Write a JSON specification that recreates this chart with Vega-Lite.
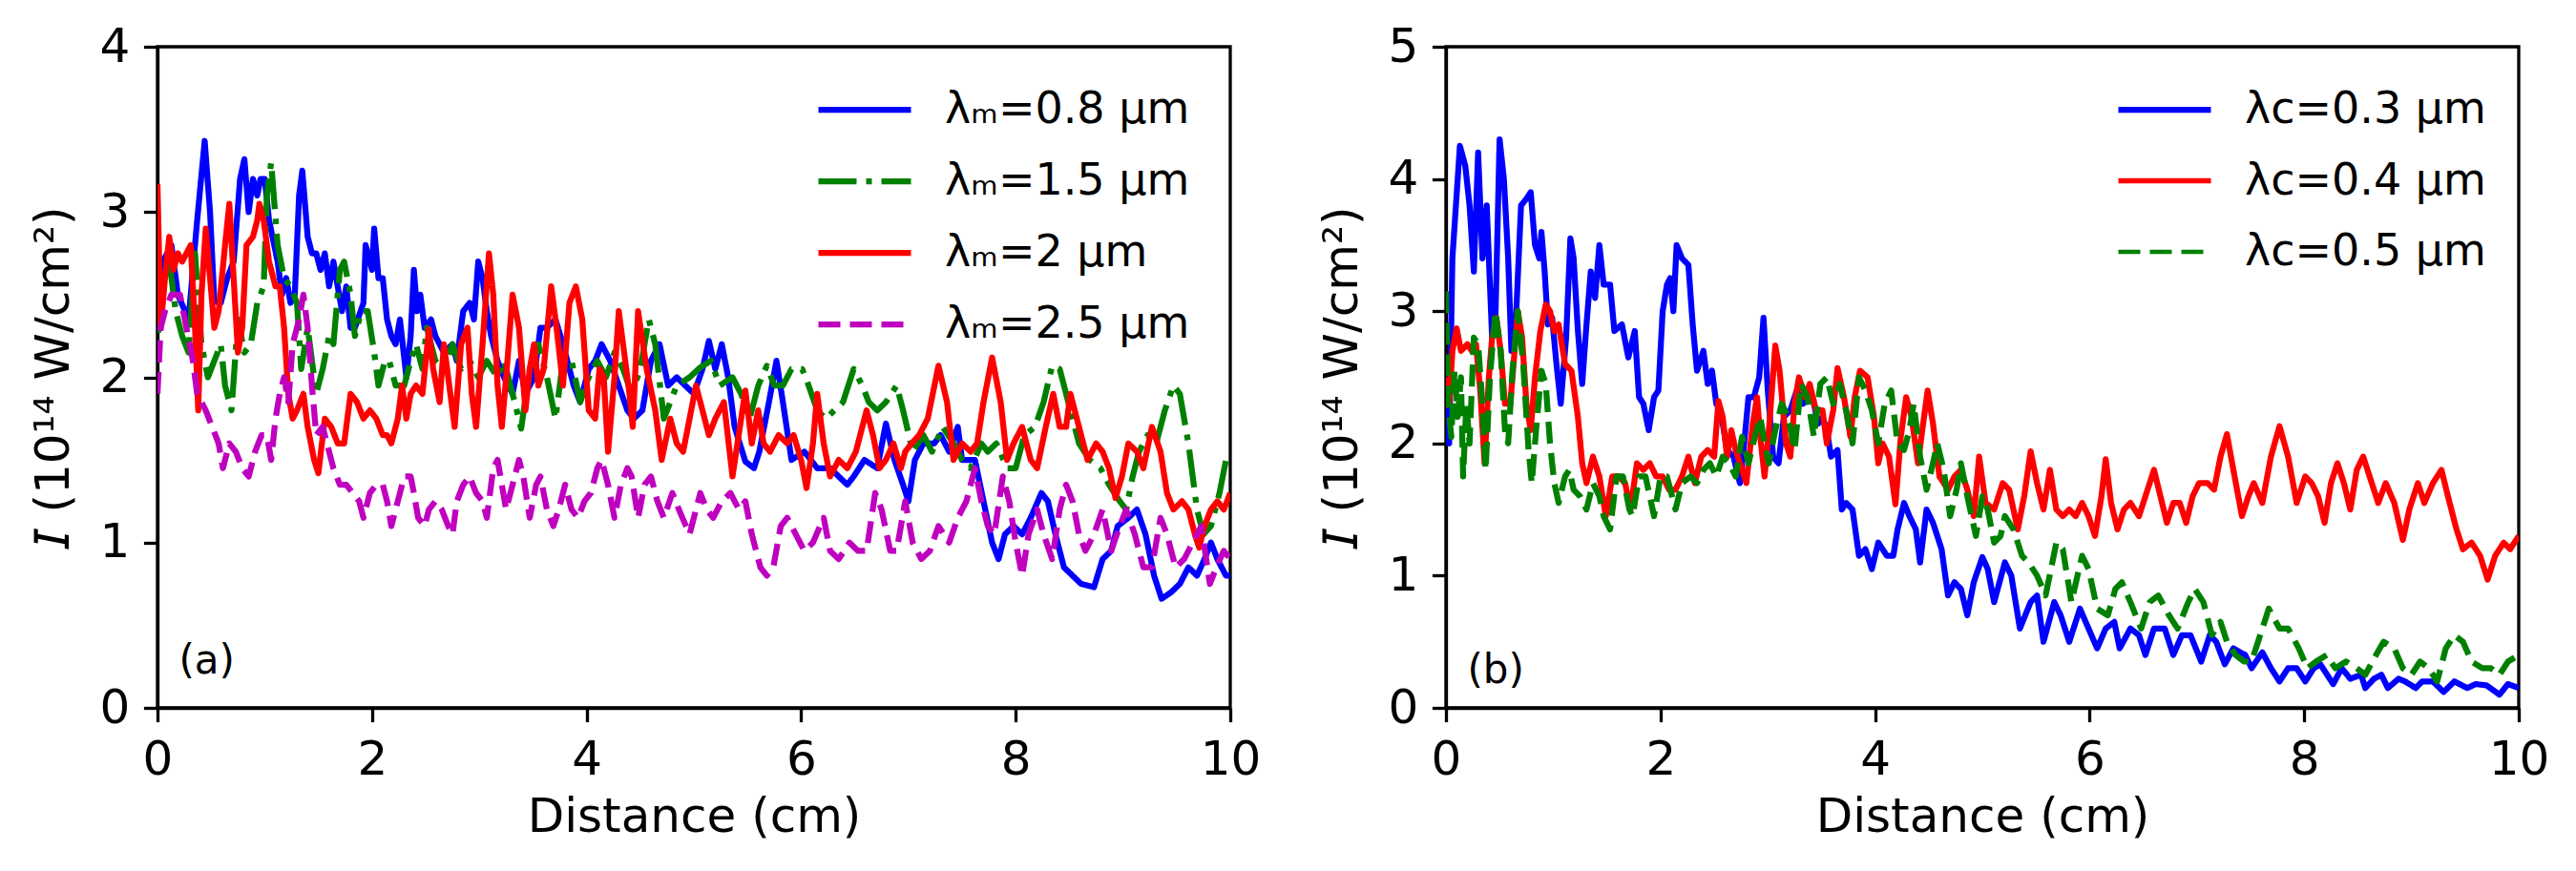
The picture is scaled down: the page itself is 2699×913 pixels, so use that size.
{
  "$schema": "https://vega.github.io/schema/vega-lite/v6.json",
  "background": "white",
  "padding": {"left": 30, "top": 22, "right": 0, "bottom": 0},
  "spacing": 57,
  "datasets": {
    "a": [
      {"s":"0.8","x":0,"y":2.5},{"s":"0.8","x":0.05,"y":2.7},{"s":"0.8","x":0.13,"y":2.8},{"s":"0.8","x":0.19,"y":2.5},{"s":"0.8","x":0.29,"y":2.35},{"s":"0.8","x":0.37,"y":2.95},{"s":"0.8","x":0.44,"y":3.43},{"s":"0.8","x":0.49,"y":3.0},{"s":"0.8","x":0.53,"y":2.46},{"s":"0.8","x":0.59,"y":2.45},{"s":"0.8","x":0.65,"y":2.6},{"s":"0.8","x":0.71,"y":2.7},{"s":"0.8","x":0.77,"y":3.2},{"s":"0.8","x":0.81,"y":3.32},{"s":"0.8","x":0.85,"y":3.0},{"s":"0.8","x":0.89,"y":3.2},{"s":"0.8","x":0.93,"y":3.1},{"s":"0.8","x":0.96,"y":3.2},{"s":"0.8","x":1.0,"y":3.2},{"s":"0.8","x":1.04,"y":2.95},{"s":"0.8","x":1.12,"y":2.7},{"s":"0.8","x":1.16,"y":2.5},{"s":"0.8","x":1.2,"y":2.6},{"s":"0.8","x":1.24,"y":2.45},{"s":"0.8","x":1.28,"y":2.5},{"s":"0.8","x":1.32,"y":3.1},{"s":"0.8","x":1.35,"y":3.25},{"s":"0.8","x":1.4,"y":2.85},{"s":"0.8","x":1.44,"y":2.75},{"s":"0.8","x":1.48,"y":2.75},{"s":"0.8","x":1.52,"y":2.65},{"s":"0.8","x":1.56,"y":2.75},{"s":"0.8","x":1.6,"y":2.55},{"s":"0.8","x":1.64,"y":2.7},{"s":"0.8","x":1.68,"y":2.55},{"s":"0.8","x":1.72,"y":2.4},{"s":"0.8","x":1.76,"y":2.55},{"s":"0.8","x":1.8,"y":2.3},{"s":"0.8","x":1.84,"y":2.3},{"s":"0.8","x":1.92,"y":2.45},{"s":"0.8","x":1.94,"y":2.8},{"s":"0.8","x":2.0,"y":2.65},{"s":"0.8","x":2.02,"y":2.9},{"s":"0.8","x":2.06,"y":2.6},{"s":"0.8","x":2.1,"y":2.6},{"s":"0.8","x":2.14,"y":2.35},{"s":"0.8","x":2.18,"y":2.25},{"s":"0.8","x":2.22,"y":2.2},{"s":"0.8","x":2.26,"y":2.35},{"s":"0.8","x":2.32,"y":2.0},{"s":"0.8","x":2.36,"y":2.25},{"s":"0.8","x":2.39,"y":2.65},{"s":"0.8","x":2.42,"y":2.4},{"s":"0.8","x":2.45,"y":2.5},{"s":"0.8","x":2.49,"y":2.3},{"s":"0.8","x":2.55,"y":2.35},{"s":"0.8","x":2.59,"y":2.25},{"s":"0.8","x":2.67,"y":2.15},{"s":"0.8","x":2.75,"y":2.2},{"s":"0.8","x":2.79,"y":2.1},{"s":"0.8","x":2.85,"y":2.4},{"s":"0.8","x":2.91,"y":2.45},{"s":"0.8","x":2.95,"y":2.35},{"s":"0.8","x":2.99,"y":2.7},{"s":"0.8","x":3.03,"y":2.6},{"s":"0.8","x":3.07,"y":2.4},{"s":"0.8","x":3.11,"y":2.25},{"s":"0.8","x":3.17,"y":2.1},{"s":"0.8","x":3.23,"y":2.0},{"s":"0.8","x":3.31,"y":1.9},{"s":"0.8","x":3.37,"y":2.1},{"s":"0.8","x":3.43,"y":1.9},{"s":"0.8","x":3.51,"y":2.0},{"s":"0.8","x":3.57,"y":2.3},{"s":"0.8","x":3.63,"y":2.3},{"s":"0.8","x":3.71,"y":2.35},{"s":"0.8","x":3.78,"y":2.2},{"s":"0.8","x":3.82,"y":2.1},{"s":"0.8","x":3.88,"y":1.95},{"s":"0.8","x":3.94,"y":1.85},{"s":"0.8","x":4.02,"y":2.05},{"s":"0.8","x":4.08,"y":2.1},{"s":"0.8","x":4.14,"y":2.2},{"s":"0.8","x":4.22,"y":2.1},{"s":"0.8","x":4.3,"y":1.95},{"s":"0.8","x":4.38,"y":1.8},{"s":"0.8","x":4.44,"y":1.75},{"s":"0.8","x":4.52,"y":1.8},{"s":"0.8","x":4.6,"y":2.1},{"s":"0.8","x":4.68,"y":2.2},{"s":"0.8","x":4.76,"y":1.95},{"s":"0.8","x":4.84,"y":2.0},{"s":"0.8","x":4.92,"y":1.95},{"s":"0.8","x":5.0,"y":1.9},{"s":"0.8","x":5.08,"y":2.05},{"s":"0.8","x":5.14,"y":2.22},{"s":"0.8","x":5.2,"y":2.05},{"s":"0.8","x":5.26,"y":2.2},{"s":"0.8","x":5.32,"y":2.0},{"s":"0.8","x":5.38,"y":1.7},{"s":"0.8","x":5.48,"y":1.49},{"s":"0.8","x":5.56,"y":1.45},{"s":"0.8","x":5.61,"y":1.55},{"s":"0.8","x":5.7,"y":1.85},{"s":"0.8","x":5.77,"y":2.1},{"s":"0.8","x":5.83,"y":1.85},{"s":"0.8","x":5.91,"y":1.5},{"s":"0.8","x":6.03,"y":1.55},{"s":"0.8","x":6.15,"y":1.45},{"s":"0.8","x":6.27,"y":1.45},{"s":"0.8","x":6.35,"y":1.4},{"s":"0.8","x":6.43,"y":1.35},{"s":"0.8","x":6.49,"y":1.4},{"s":"0.8","x":6.59,"y":1.5},{"s":"0.8","x":6.71,"y":1.45},{"s":"0.8","x":6.79,"y":1.72},{"s":"0.8","x":6.87,"y":1.5},{"s":"0.8","x":6.95,"y":1.35},{"s":"0.8","x":7.0,"y":1.25},{"s":"0.8","x":7.06,"y":1.5},{"s":"0.8","x":7.14,"y":1.6},{"s":"0.8","x":7.24,"y":1.6},{"s":"0.8","x":7.3,"y":1.65},{"s":"0.8","x":7.38,"y":1.55},{"s":"0.8","x":7.46,"y":1.7},{"s":"0.8","x":7.5,"y":1.5},{"s":"0.8","x":7.62,"y":1.5},{"s":"0.8","x":7.7,"y":1.25},{"s":"0.8","x":7.78,"y":1.0},{"s":"0.8","x":7.84,"y":0.9},{"s":"0.8","x":7.9,"y":1.05},{"s":"0.8","x":7.98,"y":1.1},{"s":"0.8","x":8.06,"y":1.05},{"s":"0.8","x":8.14,"y":1.15},{"s":"0.8","x":8.24,"y":1.3},{"s":"0.8","x":8.3,"y":1.25},{"s":"0.8","x":8.37,"y":1.05},{"s":"0.8","x":8.45,"y":0.85},{"s":"0.8","x":8.53,"y":0.8},{"s":"0.8","x":8.61,"y":0.75},{"s":"0.8","x":8.73,"y":0.73},{"s":"0.8","x":8.81,"y":0.9},{"s":"0.8","x":8.89,"y":0.95},{"s":"0.8","x":8.95,"y":1.1},{"s":"0.8","x":9.05,"y":1.15},{"s":"0.8","x":9.13,"y":1.2},{"s":"0.8","x":9.21,"y":1.05},{"s":"0.8","x":9.29,"y":0.8},{"s":"0.8","x":9.36,"y":0.66},{"s":"0.8","x":9.45,"y":0.7},{"s":"0.8","x":9.53,"y":0.75},{"s":"0.8","x":9.61,"y":0.85},{"s":"0.8","x":9.69,"y":0.8},{"s":"0.8","x":9.76,"y":0.9},{"s":"0.8","x":9.82,"y":1.0},{"s":"0.8","x":9.88,"y":0.9},{"s":"0.8","x":9.96,"y":0.8},{"s":"0.8","x":10,"y":0.8},
      {"s":"1.5","x":0,"y":2.5},{"s":"1.5","x":0.01,"y":2.2},{"s":"1.5","x":0.05,"y":2.6},{"s":"1.5","x":0.11,"y":2.7},{"s":"1.5","x":0.17,"y":2.4},{"s":"1.5","x":0.23,"y":2.25},{"s":"1.5","x":0.29,"y":2.15},{"s":"1.5","x":0.35,"y":2.75},{"s":"1.5","x":0.41,"y":2.2},{"s":"1.5","x":0.47,"y":2.0},{"s":"1.5","x":0.53,"y":2.1},{"s":"1.5","x":0.59,"y":2.2},{"s":"1.5","x":0.63,"y":1.95},{"s":"1.5","x":0.69,"y":1.8},{"s":"1.5","x":0.75,"y":2.35},{"s":"1.5","x":0.81,"y":2.15},{"s":"1.5","x":0.87,"y":2.2},{"s":"1.5","x":0.93,"y":2.45},{"s":"1.5","x":0.99,"y":2.55},{"s":"1.5","x":1.02,"y":3.1},{"s":"1.5","x":1.06,"y":3.3},{"s":"1.5","x":1.12,"y":2.8},{"s":"1.5","x":1.18,"y":2.6},{"s":"1.5","x":1.24,"y":2.55},{"s":"1.5","x":1.3,"y":2.45},{"s":"1.5","x":1.34,"y":2.05},{"s":"1.5","x":1.4,"y":2.3},{"s":"1.5","x":1.48,"y":1.9},{"s":"1.5","x":1.54,"y":2.05},{"s":"1.5","x":1.6,"y":2.25},{"s":"1.5","x":1.64,"y":2.2},{"s":"1.5","x":1.7,"y":2.65},{"s":"1.5","x":1.74,"y":2.7},{"s":"1.5","x":1.8,"y":2.5},{"s":"1.5","x":1.84,"y":2.25},{"s":"1.5","x":1.9,"y":2.4},{"s":"1.5","x":1.96,"y":2.4},{"s":"1.5","x":2.02,"y":2.15},{"s":"1.5","x":2.06,"y":1.95},{"s":"1.5","x":2.12,"y":2.1},{"s":"1.5","x":2.16,"y":2.1},{"s":"1.5","x":2.22,"y":1.95},{"s":"1.5","x":2.3,"y":1.95},{"s":"1.5","x":2.36,"y":2.1},{"s":"1.5","x":2.41,"y":2.2},{"s":"1.5","x":2.47,"y":2.05},{"s":"1.5","x":2.51,"y":2.3},{"s":"1.5","x":2.59,"y":2.1},{"s":"1.5","x":2.67,"y":2.05},{"s":"1.5","x":2.75,"y":2.2},{"s":"1.5","x":2.83,"y":2.05},{"s":"1.5","x":2.91,"y":2.1},{"s":"1.5","x":2.99,"y":2.0},{"s":"1.5","x":3.07,"y":2.1},{"s":"1.5","x":3.17,"y":2.0},{"s":"1.5","x":3.23,"y":2.1},{"s":"1.5","x":3.33,"y":1.85},{"s":"1.5","x":3.39,"y":1.69},{"s":"1.5","x":3.47,"y":2.05},{"s":"1.5","x":3.55,"y":2.2},{"s":"1.5","x":3.63,"y":2.0},{"s":"1.5","x":3.71,"y":1.75},{"s":"1.5","x":3.78,"y":2.1},{"s":"1.5","x":3.86,"y":2.1},{"s":"1.5","x":3.94,"y":1.85},{"s":"1.5","x":4.02,"y":2.0},{"s":"1.5","x":4.1,"y":2.1},{"s":"1.5","x":4.18,"y":2.0},{"s":"1.5","x":4.26,"y":2.15},{"s":"1.5","x":4.34,"y":2.05},{"s":"1.5","x":4.42,"y":1.9},{"s":"1.5","x":4.5,"y":2.05},{"s":"1.5","x":4.58,"y":2.35},{"s":"1.5","x":4.64,"y":2.2},{"s":"1.5","x":4.72,"y":1.75},{"s":"1.5","x":4.84,"y":1.95},{"s":"1.5","x":4.96,"y":2.0},{"s":"1.5","x":5.06,"y":2.06},{"s":"1.5","x":5.16,"y":2.1},{"s":"1.5","x":5.24,"y":1.95},{"s":"1.5","x":5.36,"y":2.0},{"s":"1.5","x":5.44,"y":1.9},{"s":"1.5","x":5.52,"y":1.75},{"s":"1.5","x":5.6,"y":1.95},{"s":"1.5","x":5.68,"y":2.07},{"s":"1.5","x":5.75,"y":1.95},{"s":"1.5","x":5.83,"y":1.95},{"s":"1.5","x":5.91,"y":2.05},{"s":"1.5","x":6.01,"y":2.05},{"s":"1.5","x":6.07,"y":1.95},{"s":"1.5","x":6.15,"y":1.8},{"s":"1.5","x":6.23,"y":1.75},{"s":"1.5","x":6.31,"y":1.8},{"s":"1.5","x":6.39,"y":1.85},{"s":"1.5","x":6.49,"y":2.05},{"s":"1.5","x":6.57,"y":1.95},{"s":"1.5","x":6.63,"y":1.85},{"s":"1.5","x":6.71,"y":1.8},{"s":"1.5","x":6.79,"y":1.85},{"s":"1.5","x":6.89,"y":1.95},{"s":"1.5","x":6.95,"y":1.8},{"s":"1.5","x":7.04,"y":1.55},{"s":"1.5","x":7.14,"y":1.65},{"s":"1.5","x":7.22,"y":1.55},{"s":"1.5","x":7.32,"y":1.7},{"s":"1.5","x":7.42,"y":1.6},{"s":"1.5","x":7.5,"y":1.5},{"s":"1.5","x":7.58,"y":1.45},{"s":"1.5","x":7.68,"y":1.6},{"s":"1.5","x":7.74,"y":1.55},{"s":"1.5","x":7.82,"y":1.6},{"s":"1.5","x":7.92,"y":1.45},{"s":"1.5","x":8.0,"y":1.45},{"s":"1.5","x":8.08,"y":1.65},{"s":"1.5","x":8.18,"y":1.7},{"s":"1.5","x":8.26,"y":1.85},{"s":"1.5","x":8.34,"y":2.07},{"s":"1.5","x":8.41,"y":2.05},{"s":"1.5","x":8.49,"y":1.85},{"s":"1.5","x":8.59,"y":1.6},{"s":"1.5","x":8.69,"y":1.5},{"s":"1.5","x":8.79,"y":1.45},{"s":"1.5","x":8.87,"y":1.35},{"s":"1.5","x":8.97,"y":1.25},{"s":"1.5","x":9.03,"y":1.2},{"s":"1.5","x":9.09,"y":1.4},{"s":"1.5","x":9.15,"y":1.55},{"s":"1.5","x":9.23,"y":1.65},{"s":"1.5","x":9.31,"y":1.6},{"s":"1.5","x":9.39,"y":1.8},{"s":"1.5","x":9.47,"y":1.95},{"s":"1.5","x":9.53,"y":1.9},{"s":"1.5","x":9.61,"y":1.6},{"s":"1.5","x":9.69,"y":1.2},{"s":"1.5","x":9.75,"y":1.05},{"s":"1.5","x":9.82,"y":1.1},{"s":"1.5","x":9.9,"y":1.3},{"s":"1.5","x":9.96,"y":1.5},{"s":"1.5","x":10,"y":1.52},
      {"s":"2","x":0,"y":3.17},{"s":"2","x":0.03,"y":2.3},{"s":"2","x":0.07,"y":2.6},{"s":"2","x":0.11,"y":2.85},{"s":"2","x":0.15,"y":2.65},{"s":"2","x":0.19,"y":2.75},{"s":"2","x":0.23,"y":2.7},{"s":"2","x":0.27,"y":2.75},{"s":"2","x":0.31,"y":2.8},{"s":"2","x":0.35,"y":2.3},{"s":"2","x":0.38,"y":1.8},{"s":"2","x":0.41,"y":2.5},{"s":"2","x":0.45,"y":2.9},{"s":"2","x":0.49,"y":2.6},{"s":"2","x":0.53,"y":2.3},{"s":"2","x":0.57,"y":2.4},{"s":"2","x":0.63,"y":2.8},{"s":"2","x":0.67,"y":3.05},{"s":"2","x":0.71,"y":2.6},{"s":"2","x":0.75,"y":2.15},{"s":"2","x":0.79,"y":2.3},{"s":"2","x":0.83,"y":2.8},{"s":"2","x":0.89,"y":2.85},{"s":"2","x":0.93,"y":2.95},{"s":"2","x":0.95,"y":3.05},{"s":"2","x":0.99,"y":2.95},{"s":"2","x":1.04,"y":2.7},{"s":"2","x":1.1,"y":2.55},{"s":"2","x":1.14,"y":2.55},{"s":"2","x":1.18,"y":2.3},{"s":"2","x":1.22,"y":1.9},{"s":"2","x":1.26,"y":1.75},{"s":"2","x":1.3,"y":1.8},{"s":"2","x":1.36,"y":1.9},{"s":"2","x":1.4,"y":1.7},{"s":"2","x":1.46,"y":1.5},{"s":"2","x":1.5,"y":1.42},{"s":"2","x":1.56,"y":1.75},{"s":"2","x":1.62,"y":1.7},{"s":"2","x":1.68,"y":1.6},{"s":"2","x":1.74,"y":1.6},{"s":"2","x":1.8,"y":1.9},{"s":"2","x":1.86,"y":1.85},{"s":"2","x":1.92,"y":1.75},{"s":"2","x":1.98,"y":1.8},{"s":"2","x":2.04,"y":1.75},{"s":"2","x":2.1,"y":1.65},{"s":"2","x":2.14,"y":1.65},{"s":"2","x":2.18,"y":1.6},{"s":"2","x":2.24,"y":1.75},{"s":"2","x":2.28,"y":1.95},{"s":"2","x":2.32,"y":1.75},{"s":"2","x":2.36,"y":1.9},{"s":"2","x":2.41,"y":1.95},{"s":"2","x":2.47,"y":1.9},{"s":"2","x":2.53,"y":2.29},{"s":"2","x":2.57,"y":2.05},{"s":"2","x":2.63,"y":1.85},{"s":"2","x":2.67,"y":2.2},{"s":"2","x":2.71,"y":2.0},{"s":"2","x":2.77,"y":1.7},{"s":"2","x":2.83,"y":2.2},{"s":"2","x":2.89,"y":2.3},{"s":"2","x":2.93,"y":1.9},{"s":"2","x":2.97,"y":1.7},{"s":"2","x":3.03,"y":2.2},{"s":"2","x":3.09,"y":2.75},{"s":"2","x":3.13,"y":2.5},{"s":"2","x":3.17,"y":1.95},{"s":"2","x":3.21,"y":1.7},{"s":"2","x":3.25,"y":2.0},{"s":"2","x":3.31,"y":2.5},{"s":"2","x":3.37,"y":2.3},{"s":"2","x":3.43,"y":1.8},{"s":"2","x":3.47,"y":2.05},{"s":"2","x":3.51,"y":2.2},{"s":"2","x":3.55,"y":1.95},{"s":"2","x":3.6,"y":2.05},{"s":"2","x":3.67,"y":2.55},{"s":"2","x":3.72,"y":2.3},{"s":"2","x":3.78,"y":1.95},{"s":"2","x":3.84,"y":2.45},{"s":"2","x":3.9,"y":2.55},{"s":"2","x":3.96,"y":2.35},{"s":"2","x":4.02,"y":1.8},{"s":"2","x":4.08,"y":1.75},{"s":"2","x":4.12,"y":2.05},{"s":"2","x":4.16,"y":2.0},{"s":"2","x":4.2,"y":1.55},{"s":"2","x":4.26,"y":2.0},{"s":"2","x":4.3,"y":2.4},{"s":"2","x":4.34,"y":2.2},{"s":"2","x":4.4,"y":1.9},{"s":"2","x":4.43,"y":1.7},{"s":"2","x":4.48,"y":2.4},{"s":"2","x":4.56,"y":2.05},{"s":"2","x":4.64,"y":1.8},{"s":"2","x":4.7,"y":1.5},{"s":"2","x":4.78,"y":1.75},{"s":"2","x":4.84,"y":1.6},{"s":"2","x":4.9,"y":1.55},{"s":"2","x":4.96,"y":1.75},{"s":"2","x":5.02,"y":1.95},{"s":"2","x":5.08,"y":1.8},{"s":"2","x":5.14,"y":1.65},{"s":"2","x":5.2,"y":1.75},{"s":"2","x":5.28,"y":1.85},{"s":"2","x":5.36,"y":1.4},{"s":"2","x":5.48,"y":1.92},{"s":"2","x":5.54,"y":1.6},{"s":"2","x":5.6,"y":1.8},{"s":"2","x":5.65,"y":1.6},{"s":"2","x":5.71,"y":1.55},{"s":"2","x":5.79,"y":1.65},{"s":"2","x":5.87,"y":1.6},{"s":"2","x":5.93,"y":1.65},{"s":"2","x":6.0,"y":1.5},{"s":"2","x":6.05,"y":1.33},{"s":"2","x":6.11,"y":1.6},{"s":"2","x":6.15,"y":1.9},{"s":"2","x":6.21,"y":1.6},{"s":"2","x":6.27,"y":1.4},{"s":"2","x":6.35,"y":1.5},{"s":"2","x":6.43,"y":1.45},{"s":"2","x":6.51,"y":1.55},{"s":"2","x":6.61,"y":1.8},{"s":"2","x":6.67,"y":1.65},{"s":"2","x":6.73,"y":1.45},{"s":"2","x":6.79,"y":1.5},{"s":"2","x":6.86,"y":1.6},{"s":"2","x":6.93,"y":1.45},{"s":"2","x":6.97,"y":1.55},{"s":"2","x":7.03,"y":1.6},{"s":"2","x":7.1,"y":1.65},{"s":"2","x":7.18,"y":1.75},{"s":"2","x":7.28,"y":2.07},{"s":"2","x":7.36,"y":1.85},{"s":"2","x":7.42,"y":1.5},{"s":"2","x":7.5,"y":1.6},{"s":"2","x":7.58,"y":1.55},{"s":"2","x":7.64,"y":1.6},{"s":"2","x":7.7,"y":1.85},{"s":"2","x":7.78,"y":2.12},{"s":"2","x":7.86,"y":1.85},{"s":"2","x":7.92,"y":1.5},{"s":"2","x":7.98,"y":1.6},{"s":"2","x":8.06,"y":1.7},{"s":"2","x":8.14,"y":1.5},{"s":"2","x":8.2,"y":1.45},{"s":"2","x":8.28,"y":1.7},{"s":"2","x":8.35,"y":1.9},{"s":"2","x":8.41,"y":1.7},{"s":"2","x":8.47,"y":1.7},{"s":"2","x":8.51,"y":1.9},{"s":"2","x":8.59,"y":1.7},{"s":"2","x":8.67,"y":1.5},{"s":"2","x":8.75,"y":1.6},{"s":"2","x":8.81,"y":1.55},{"s":"2","x":8.87,"y":1.45},{"s":"2","x":8.93,"y":1.27},{"s":"2","x":8.99,"y":1.4},{"s":"2","x":9.05,"y":1.6},{"s":"2","x":9.13,"y":1.55},{"s":"2","x":9.19,"y":1.45},{"s":"2","x":9.27,"y":1.7},{"s":"2","x":9.35,"y":1.55},{"s":"2","x":9.41,"y":1.3},{"s":"2","x":9.47,"y":1.2},{"s":"2","x":9.55,"y":1.25},{"s":"2","x":9.61,"y":1.2},{"s":"2","x":9.67,"y":1.05},{"s":"2","x":9.71,"y":0.97},{"s":"2","x":9.76,"y":1.1},{"s":"2","x":9.82,"y":1.2},{"s":"2","x":9.88,"y":1.25},{"s":"2","x":9.94,"y":1.2},{"s":"2","x":10,"y":1.3},
      {"s":"2.5","x":0,"y":1.9},{"s":"2.5","x":0.03,"y":2.3},{"s":"2.5","x":0.07,"y":2.4},{"s":"2.5","x":0.13,"y":2.5},{"s":"2.5","x":0.21,"y":2.5},{"s":"2.5","x":0.27,"y":2.3},{"s":"2.5","x":0.33,"y":2.1},{"s":"2.5","x":0.37,"y":1.9},{"s":"2.5","x":0.41,"y":1.85},{"s":"2.5","x":0.45,"y":1.8},{"s":"2.5","x":0.51,"y":1.7},{"s":"2.5","x":0.57,"y":1.6},{"s":"2.5","x":0.61,"y":1.45},{"s":"2.5","x":0.67,"y":1.6},{"s":"2.5","x":0.73,"y":1.55},{"s":"2.5","x":0.79,"y":1.45},{"s":"2.5","x":0.85,"y":1.4},{"s":"2.5","x":0.91,"y":1.55},{"s":"2.5","x":0.97,"y":1.65},{"s":"2.5","x":1.02,"y":1.65},{"s":"2.5","x":1.06,"y":1.5},{"s":"2.5","x":1.1,"y":1.75},{"s":"2.5","x":1.14,"y":1.9},{"s":"2.5","x":1.18,"y":2.0},{"s":"2.5","x":1.22,"y":1.85},{"s":"2.5","x":1.26,"y":2.2},{"s":"2.5","x":1.32,"y":2.35},{"s":"2.5","x":1.36,"y":2.5},{"s":"2.5","x":1.4,"y":2.3},{"s":"2.5","x":1.44,"y":1.95},{"s":"2.5","x":1.48,"y":1.65},{"s":"2.5","x":1.54,"y":1.7},{"s":"2.5","x":1.6,"y":1.55},{"s":"2.5","x":1.64,"y":1.45},{"s":"2.5","x":1.7,"y":1.35},{"s":"2.5","x":1.76,"y":1.35},{"s":"2.5","x":1.82,"y":1.3},{"s":"2.5","x":1.88,"y":1.25},{"s":"2.5","x":1.92,"y":1.15},{"s":"2.5","x":1.98,"y":1.3},{"s":"2.5","x":2.04,"y":1.35},{"s":"2.5","x":2.1,"y":1.35},{"s":"2.5","x":2.14,"y":1.25},{"s":"2.5","x":2.18,"y":1.1},{"s":"2.5","x":2.24,"y":1.25},{"s":"2.5","x":2.3,"y":1.4},{"s":"2.5","x":2.36,"y":1.4},{"s":"2.5","x":2.39,"y":1.3},{"s":"2.5","x":2.43,"y":1.15},{"s":"2.5","x":2.49,"y":1.1},{"s":"2.5","x":2.53,"y":1.2},{"s":"2.5","x":2.59,"y":1.25},{"s":"2.5","x":2.65,"y":1.2},{"s":"2.5","x":2.71,"y":1.1},{"s":"2.5","x":2.75,"y":1.05},{"s":"2.5","x":2.79,"y":1.25},{"s":"2.5","x":2.85,"y":1.35},{"s":"2.5","x":2.91,"y":1.4},{"s":"2.5","x":2.97,"y":1.3},{"s":"2.5","x":3.03,"y":1.25},{"s":"2.5","x":3.07,"y":1.15},{"s":"2.5","x":3.13,"y":1.45},{"s":"2.5","x":3.17,"y":1.5},{"s":"2.5","x":3.21,"y":1.35},{"s":"2.5","x":3.25,"y":1.2},{"s":"2.5","x":3.31,"y":1.35},{"s":"2.5","x":3.37,"y":1.5},{"s":"2.5","x":3.41,"y":1.4},{"s":"2.5","x":3.47,"y":1.15},{"s":"2.5","x":3.53,"y":1.35},{"s":"2.5","x":3.57,"y":1.4},{"s":"2.5","x":3.63,"y":1.2},{"s":"2.5","x":3.69,"y":1.1},{"s":"2.5","x":3.74,"y":1.2},{"s":"2.5","x":3.8,"y":1.35},{"s":"2.5","x":3.86,"y":1.2},{"s":"2.5","x":3.92,"y":1.15},{"s":"2.5","x":3.98,"y":1.25},{"s":"2.5","x":4.04,"y":1.3},{"s":"2.5","x":4.1,"y":1.45},{"s":"2.5","x":4.14,"y":1.5},{"s":"2.5","x":4.2,"y":1.35},{"s":"2.5","x":4.26,"y":1.15},{"s":"2.5","x":4.32,"y":1.35},{"s":"2.5","x":4.38,"y":1.45},{"s":"2.5","x":4.42,"y":1.4},{"s":"2.5","x":4.48,"y":1.15},{"s":"2.5","x":4.54,"y":1.35},{"s":"2.5","x":4.6,"y":1.4},{"s":"2.5","x":4.66,"y":1.25},{"s":"2.5","x":4.72,"y":1.15},{"s":"2.5","x":4.8,"y":1.3},{"s":"2.5","x":4.86,"y":1.2},{"s":"2.5","x":4.96,"y":1.05},{"s":"2.5","x":5.06,"y":1.3},{"s":"2.5","x":5.12,"y":1.2},{"s":"2.5","x":5.18,"y":1.15},{"s":"2.5","x":5.26,"y":1.25},{"s":"2.5","x":5.34,"y":1.3},{"s":"2.5","x":5.42,"y":1.2},{"s":"2.5","x":5.48,"y":1.25},{"s":"2.5","x":5.54,"y":1.05},{"s":"2.5","x":5.62,"y":0.85},{"s":"2.5","x":5.68,"y":0.8},{"s":"2.5","x":5.74,"y":0.85},{"s":"2.5","x":5.81,"y":1.1},{"s":"2.5","x":5.87,"y":1.15},{"s":"2.5","x":5.95,"y":1.05},{"s":"2.5","x":6.03,"y":0.95},{"s":"2.5","x":6.11,"y":1.0},{"s":"2.5","x":6.21,"y":1.15},{"s":"2.5","x":6.27,"y":0.95},{"s":"2.5","x":6.35,"y":0.9},{"s":"2.5","x":6.45,"y":1.0},{"s":"2.5","x":6.53,"y":0.95},{"s":"2.5","x":6.61,"y":0.95},{"s":"2.5","x":6.69,"y":1.3},{"s":"2.5","x":6.75,"y":1.2},{"s":"2.5","x":6.83,"y":0.95},{"s":"2.5","x":6.89,"y":0.95},{"s":"2.5","x":6.97,"y":1.25},{"s":"2.5","x":7.04,"y":1.0},{"s":"2.5","x":7.12,"y":0.9},{"s":"2.5","x":7.2,"y":0.95},{"s":"2.5","x":7.28,"y":1.1},{"s":"2.5","x":7.38,"y":1.0},{"s":"2.5","x":7.46,"y":1.15},{"s":"2.5","x":7.54,"y":1.25},{"s":"2.5","x":7.62,"y":1.45},{"s":"2.5","x":7.68,"y":1.25},{"s":"2.5","x":7.74,"y":1.1},{"s":"2.5","x":7.8,"y":1.05},{"s":"2.5","x":7.88,"y":1.4},{"s":"2.5","x":7.94,"y":1.25},{"s":"2.5","x":8.0,"y":1.0},{"s":"2.5","x":8.06,"y":0.8},{"s":"2.5","x":8.12,"y":1.05},{"s":"2.5","x":8.2,"y":1.2},{"s":"2.5","x":8.26,"y":1.05},{"s":"2.5","x":8.34,"y":0.9},{"s":"2.5","x":8.41,"y":1.2},{"s":"2.5","x":8.47,"y":1.35},{"s":"2.5","x":8.53,"y":1.25},{"s":"2.5","x":8.59,"y":1.05},{"s":"2.5","x":8.65,"y":0.95},{"s":"2.5","x":8.73,"y":1.05},{"s":"2.5","x":8.81,"y":1.2},{"s":"2.5","x":8.89,"y":0.95},{"s":"2.5","x":8.97,"y":1.1},{"s":"2.5","x":9.03,"y":1.2},{"s":"2.5","x":9.11,"y":1.05},{"s":"2.5","x":9.19,"y":0.85},{"s":"2.5","x":9.27,"y":0.85},{"s":"2.5","x":9.35,"y":1.15},{"s":"2.5","x":9.41,"y":1.05},{"s":"2.5","x":9.49,"y":0.85},{"s":"2.5","x":9.57,"y":0.9},{"s":"2.5","x":9.65,"y":1.0},{"s":"2.5","x":9.73,"y":1.1},{"s":"2.5","x":9.81,"y":0.75},{"s":"2.5","x":9.87,"y":0.85},{"s":"2.5","x":9.94,"y":0.95},{"s":"2.5","x":10,"y":0.9}
    ],
    "b": [
      {"s":"0.3","x":0,"y":2.5},{"s":"0.3","x":0.03,"y":2.0},{"s":"0.3","x":0.06,"y":3.4},{"s":"0.3","x":0.13,"y":4.25},{"s":"0.3","x":0.18,"y":4.1},{"s":"0.3","x":0.22,"y":3.8},{"s":"0.3","x":0.26,"y":3.3},{"s":"0.3","x":0.3,"y":4.2},{"s":"0.3","x":0.34,"y":3.4},{"s":"0.3","x":0.38,"y":3.8},{"s":"0.3","x":0.43,"y":2.8},{"s":"0.3","x":0.46,"y":2.9},{"s":"0.3","x":0.5,"y":4.3},{"s":"0.3","x":0.54,"y":4.0},{"s":"0.3","x":0.58,"y":3.4},{"s":"0.3","x":0.61,"y":2.7},{"s":"0.3","x":0.65,"y":2.9},{"s":"0.3","x":0.7,"y":3.8},{"s":"0.3","x":0.75,"y":3.85},{"s":"0.3","x":0.79,"y":3.9},{"s":"0.3","x":0.83,"y":3.5},{"s":"0.3","x":0.87,"y":3.4},{"s":"0.3","x":0.89,"y":3.6},{"s":"0.3","x":0.92,"y":3.3},{"s":"0.3","x":0.95,"y":2.9},{"s":"0.3","x":0.99,"y":2.95},{"s":"0.3","x":1.03,"y":2.6},{"s":"0.3","x":1.07,"y":2.3},{"s":"0.3","x":1.12,"y":2.8},{"s":"0.3","x":1.16,"y":3.55},{"s":"0.3","x":1.19,"y":3.4},{"s":"0.3","x":1.23,"y":2.85},{"s":"0.3","x":1.27,"y":2.45},{"s":"0.3","x":1.31,"y":2.9},{"s":"0.3","x":1.35,"y":3.3},{"s":"0.3","x":1.39,"y":3.1},{"s":"0.3","x":1.43,"y":3.5},{"s":"0.3","x":1.47,"y":3.2},{"s":"0.3","x":1.53,"y":3.2},{"s":"0.3","x":1.57,"y":2.85},{"s":"0.3","x":1.64,"y":2.9},{"s":"0.3","x":1.7,"y":2.65},{"s":"0.3","x":1.76,"y":2.85},{"s":"0.3","x":1.8,"y":2.35},{"s":"0.3","x":1.84,"y":2.3},{"s":"0.3","x":1.89,"y":2.1},{"s":"0.3","x":1.94,"y":2.35},{"s":"0.3","x":1.98,"y":2.4},{"s":"0.3","x":2.02,"y":3.0},{"s":"0.3","x":2.06,"y":3.2},{"s":"0.3","x":2.09,"y":3.25},{"s":"0.3","x":2.12,"y":3.0},{"s":"0.3","x":2.15,"y":3.5},{"s":"0.3","x":2.2,"y":3.4},{"s":"0.3","x":2.26,"y":3.35},{"s":"0.3","x":2.3,"y":2.9},{"s":"0.3","x":2.34,"y":2.55},{"s":"0.3","x":2.4,"y":2.7},{"s":"0.3","x":2.44,"y":2.45},{"s":"0.3","x":2.48,"y":2.55},{"s":"0.3","x":2.52,"y":2.3},{"s":"0.3","x":2.56,"y":2.25},{"s":"0.3","x":2.62,"y":1.95},{"s":"0.3","x":2.68,"y":1.9},{"s":"0.3","x":2.74,"y":1.7},{"s":"0.3","x":2.78,"y":2.0},{"s":"0.3","x":2.82,"y":2.35},{"s":"0.3","x":2.87,"y":2.35},{"s":"0.3","x":2.92,"y":2.5},{"s":"0.3","x":2.96,"y":2.95},{"s":"0.3","x":3.0,"y":2.4},{"s":"0.3","x":3.05,"y":1.9},{"s":"0.3","x":3.1,"y":1.85},{"s":"0.3","x":3.15,"y":2.2},{"s":"0.3","x":3.21,"y":2.25},{"s":"0.3","x":3.27,"y":2.4},{"s":"0.3","x":3.33,"y":2.3},{"s":"0.3","x":3.39,"y":2.4},{"s":"0.3","x":3.43,"y":2.3},{"s":"0.3","x":3.47,"y":2.15},{"s":"0.3","x":3.51,"y":2.2},{"s":"0.3","x":3.55,"y":2.1},{"s":"0.3","x":3.59,"y":1.9},{"s":"0.3","x":3.65,"y":1.95},{"s":"0.3","x":3.69,"y":1.5},{"s":"0.3","x":3.73,"y":1.55},{"s":"0.3","x":3.79,"y":1.5},{"s":"0.3","x":3.85,"y":1.15},{"s":"0.3","x":3.91,"y":1.2},{"s":"0.3","x":3.97,"y":1.05},{"s":"0.3","x":4.03,"y":1.25},{"s":"0.3","x":4.11,"y":1.15},{"s":"0.3","x":4.17,"y":1.15},{"s":"0.3","x":4.21,"y":1.35},{"s":"0.3","x":4.27,"y":1.55},{"s":"0.3","x":4.32,"y":1.45},{"s":"0.3","x":4.38,"y":1.35},{"s":"0.3","x":4.42,"y":1.1},{"s":"0.3","x":4.48,"y":1.5},{"s":"0.3","x":4.54,"y":1.4},{"s":"0.3","x":4.62,"y":1.2},{"s":"0.3","x":4.68,"y":0.85},{"s":"0.3","x":4.74,"y":0.95},{"s":"0.3","x":4.8,"y":0.9},{"s":"0.3","x":4.86,"y":0.7},{"s":"0.3","x":4.92,"y":0.95},{"s":"0.3","x":5.0,"y":1.14},{"s":"0.3","x":5.05,"y":1.05},{"s":"0.3","x":5.11,"y":0.8},{"s":"0.3","x":5.21,"y":1.1},{"s":"0.3","x":5.27,"y":1.0},{"s":"0.3","x":5.35,"y":0.6},{"s":"0.3","x":5.45,"y":0.8},{"s":"0.3","x":5.51,"y":0.85},{"s":"0.3","x":5.57,"y":0.5},{"s":"0.3","x":5.67,"y":0.8},{"s":"0.3","x":5.73,"y":0.7},{"s":"0.3","x":5.81,"y":0.5},{"s":"0.3","x":5.91,"y":0.75},{"s":"0.3","x":5.99,"y":0.6},{"s":"0.3","x":6.07,"y":0.45},{"s":"0.3","x":6.15,"y":0.6},{"s":"0.3","x":6.23,"y":0.65},{"s":"0.3","x":6.28,"y":0.45},{"s":"0.3","x":6.38,"y":0.6},{"s":"0.3","x":6.46,"y":0.55},{"s":"0.3","x":6.52,"y":0.4},{"s":"0.3","x":6.6,"y":0.6},{"s":"0.3","x":6.7,"y":0.6},{"s":"0.3","x":6.78,"y":0.4},{"s":"0.3","x":6.86,"y":0.55},{"s":"0.3","x":6.94,"y":0.55},{"s":"0.3","x":7.04,"y":0.35},{"s":"0.3","x":7.12,"y":0.55},{"s":"0.3","x":7.18,"y":0.5},{"s":"0.3","x":7.26,"y":0.33},{"s":"0.3","x":7.34,"y":0.45},{"s":"0.3","x":7.45,"y":0.4},{"s":"0.3","x":7.51,"y":0.3},{"s":"0.3","x":7.61,"y":0.42},{"s":"0.3","x":7.69,"y":0.3},{"s":"0.3","x":7.77,"y":0.2},{"s":"0.3","x":7.85,"y":0.3},{"s":"0.3","x":7.93,"y":0.3},{"s":"0.3","x":8.01,"y":0.2},{"s":"0.3","x":8.09,"y":0.3},{"s":"0.3","x":8.15,"y":0.33},{"s":"0.3","x":8.27,"y":0.18},{"s":"0.3","x":8.35,"y":0.3},{"s":"0.3","x":8.43,"y":0.22},{"s":"0.3","x":8.53,"y":0.25},{"s":"0.3","x":8.57,"y":0.15},{"s":"0.3","x":8.65,"y":0.22},{"s":"0.3","x":8.72,"y":0.25},{"s":"0.3","x":8.78,"y":0.15},{"s":"0.3","x":8.88,"y":0.22},{"s":"0.3","x":8.94,"y":0.2},{"s":"0.3","x":9.04,"y":0.15},{"s":"0.3","x":9.1,"y":0.2},{"s":"0.3","x":9.2,"y":0.2},{"s":"0.3","x":9.3,"y":0.12},{"s":"0.3","x":9.4,"y":0.2},{"s":"0.3","x":9.52,"y":0.15},{"s":"0.3","x":9.6,"y":0.18},{"s":"0.3","x":9.7,"y":0.17},{"s":"0.3","x":9.82,"y":0.1},{"s":"0.3","x":9.9,"y":0.18},{"s":"0.3","x":10,"y":0.15},
      {"s":"0.4","x":0,"y":2.5},{"s":"0.4","x":0.03,"y":2.3},{"s":"0.4","x":0.06,"y":2.7},{"s":"0.4","x":0.1,"y":2.87},{"s":"0.4","x":0.14,"y":2.7},{"s":"0.4","x":0.2,"y":2.75},{"s":"0.4","x":0.24,"y":2.7},{"s":"0.4","x":0.28,"y":2.75},{"s":"0.4","x":0.32,"y":2.4},{"s":"0.4","x":0.36,"y":1.85},{"s":"0.4","x":0.4,"y":2.5},{"s":"0.4","x":0.43,"y":2.8},{"s":"0.4","x":0.47,"y":2.95},{"s":"0.4","x":0.51,"y":2.7},{"s":"0.4","x":0.55,"y":2.3},{"s":"0.4","x":0.6,"y":2.3},{"s":"0.4","x":0.63,"y":2.6},{"s":"0.4","x":0.67,"y":3.0},{"s":"0.4","x":0.71,"y":2.8},{"s":"0.4","x":0.75,"y":2.3},{"s":"0.4","x":0.79,"y":2.1},{"s":"0.4","x":0.83,"y":2.5},{"s":"0.4","x":0.88,"y":2.85},{"s":"0.4","x":0.93,"y":3.05},{"s":"0.4","x":0.97,"y":3.0},{"s":"0.4","x":1.01,"y":2.85},{"s":"0.4","x":1.05,"y":2.9},{"s":"0.4","x":1.11,"y":2.6},{"s":"0.4","x":1.17,"y":2.55},{"s":"0.4","x":1.23,"y":2.2},{"s":"0.4","x":1.27,"y":1.85},{"s":"0.4","x":1.31,"y":1.7},{"s":"0.4","x":1.37,"y":1.9},{"s":"0.4","x":1.43,"y":1.75},{"s":"0.4","x":1.49,"y":1.45},{"s":"0.4","x":1.55,"y":1.75},{"s":"0.4","x":1.61,"y":1.75},{"s":"0.4","x":1.67,"y":1.7},{"s":"0.4","x":1.72,"y":1.5},{"s":"0.4","x":1.78,"y":1.85},{"s":"0.4","x":1.84,"y":1.8},{"s":"0.4","x":1.9,"y":1.85},{"s":"0.4","x":1.96,"y":1.75},{"s":"0.4","x":2.02,"y":1.75},{"s":"0.4","x":2.08,"y":1.65},{"s":"0.4","x":2.14,"y":1.65},{"s":"0.4","x":2.2,"y":1.75},{"s":"0.4","x":2.26,"y":1.9},{"s":"0.4","x":2.32,"y":1.7},{"s":"0.4","x":2.38,"y":1.9},{"s":"0.4","x":2.44,"y":1.95},{"s":"0.4","x":2.5,"y":1.9},{"s":"0.4","x":2.54,"y":2.32},{"s":"0.4","x":2.58,"y":2.2},{"s":"0.4","x":2.62,"y":1.9},{"s":"0.4","x":2.66,"y":2.1},{"s":"0.4","x":2.7,"y":1.95},{"s":"0.4","x":2.76,"y":1.8},{"s":"0.4","x":2.8,"y":1.7},{"s":"0.4","x":2.86,"y":2.15},{"s":"0.4","x":2.9,"y":2.35},{"s":"0.4","x":2.93,"y":2.05},{"s":"0.4","x":2.97,"y":1.75},{"s":"0.4","x":3.01,"y":2.1},{"s":"0.4","x":3.07,"y":2.74},{"s":"0.4","x":3.11,"y":2.55},{"s":"0.4","x":3.17,"y":2.0},{"s":"0.4","x":3.21,"y":1.9},{"s":"0.4","x":3.25,"y":2.3},{"s":"0.4","x":3.29,"y":2.5},{"s":"0.4","x":3.35,"y":2.35},{"s":"0.4","x":3.39,"y":2.45},{"s":"0.4","x":3.45,"y":2.25},{"s":"0.4","x":3.51,"y":2.25},{"s":"0.4","x":3.55,"y":2.0},{"s":"0.4","x":3.61,"y":2.25},{"s":"0.4","x":3.65,"y":2.57},{"s":"0.4","x":3.71,"y":2.35},{"s":"0.4","x":3.77,"y":2.05},{"s":"0.4","x":3.81,"y":2.35},{"s":"0.4","x":3.86,"y":2.55},{"s":"0.4","x":3.93,"y":2.5},{"s":"0.4","x":3.99,"y":2.2},{"s":"0.4","x":4.03,"y":1.85},{"s":"0.4","x":4.07,"y":2.0},{"s":"0.4","x":4.13,"y":1.9},{"s":"0.4","x":4.19,"y":1.54},{"s":"0.4","x":4.24,"y":2.05},{"s":"0.4","x":4.29,"y":2.35},{"s":"0.4","x":4.34,"y":2.2},{"s":"0.4","x":4.4,"y":1.85},{"s":"0.4","x":4.44,"y":2.1},{"s":"0.4","x":4.49,"y":2.4},{"s":"0.4","x":4.54,"y":2.15},{"s":"0.4","x":4.6,"y":1.75},{"s":"0.4","x":4.68,"y":1.65},{"s":"0.4","x":4.74,"y":1.75},{"s":"0.4","x":4.8,"y":1.8},{"s":"0.4","x":4.86,"y":1.65},{"s":"0.4","x":4.92,"y":1.45},{"s":"0.4","x":4.97,"y":1.9},{"s":"0.4","x":5.03,"y":1.55},{"s":"0.4","x":5.11,"y":1.5},{"s":"0.4","x":5.19,"y":1.7},{"s":"0.4","x":5.25,"y":1.65},{"s":"0.4","x":5.33,"y":1.35},{"s":"0.4","x":5.39,"y":1.6},{"s":"0.4","x":5.45,"y":1.94},{"s":"0.4","x":5.51,"y":1.7},{"s":"0.4","x":5.57,"y":1.5},{"s":"0.4","x":5.63,"y":1.8},{"s":"0.4","x":5.69,"y":1.5},{"s":"0.4","x":5.75,"y":1.45},{"s":"0.4","x":5.81,"y":1.5},{"s":"0.4","x":5.87,"y":1.45},{"s":"0.4","x":5.93,"y":1.55},{"s":"0.4","x":5.99,"y":1.45},{"s":"0.4","x":6.05,"y":1.3},{"s":"0.4","x":6.11,"y":1.6},{"s":"0.4","x":6.15,"y":1.88},{"s":"0.4","x":6.2,"y":1.55},{"s":"0.4","x":6.26,"y":1.35},{"s":"0.4","x":6.32,"y":1.5},{"s":"0.4","x":6.38,"y":1.55},{"s":"0.4","x":6.46,"y":1.45},{"s":"0.4","x":6.54,"y":1.65},{"s":"0.4","x":6.6,"y":1.8},{"s":"0.4","x":6.66,"y":1.6},{"s":"0.4","x":6.72,"y":1.4},{"s":"0.4","x":6.78,"y":1.55},{"s":"0.4","x":6.84,"y":1.55},{"s":"0.4","x":6.9,"y":1.4},{"s":"0.4","x":6.96,"y":1.6},{"s":"0.4","x":7.02,"y":1.7},{"s":"0.4","x":7.1,"y":1.7},{"s":"0.4","x":7.16,"y":1.65},{"s":"0.4","x":7.22,"y":1.9},{"s":"0.4","x":7.28,"y":2.07},{"s":"0.4","x":7.34,"y":1.8},{"s":"0.4","x":7.42,"y":1.45},{"s":"0.4","x":7.48,"y":1.6},{"s":"0.4","x":7.53,"y":1.7},{"s":"0.4","x":7.61,"y":1.55},{"s":"0.4","x":7.69,"y":1.9},{"s":"0.4","x":7.77,"y":2.13},{"s":"0.4","x":7.85,"y":1.9},{"s":"0.4","x":7.93,"y":1.55},{"s":"0.4","x":8.01,"y":1.75},{"s":"0.4","x":8.07,"y":1.7},{"s":"0.4","x":8.13,"y":1.6},{"s":"0.4","x":8.19,"y":1.4},{"s":"0.4","x":8.25,"y":1.7},{"s":"0.4","x":8.31,"y":1.85},{"s":"0.4","x":8.37,"y":1.7},{"s":"0.4","x":8.43,"y":1.5},{"s":"0.4","x":8.49,"y":1.8},{"s":"0.4","x":8.55,"y":1.9},{"s":"0.4","x":8.61,"y":1.75},{"s":"0.4","x":8.69,"y":1.55},{"s":"0.4","x":8.76,"y":1.7},{"s":"0.4","x":8.84,"y":1.55},{"s":"0.4","x":8.92,"y":1.27},{"s":"0.4","x":8.98,"y":1.5},{"s":"0.4","x":9.06,"y":1.7},{"s":"0.4","x":9.12,"y":1.55},{"s":"0.4","x":9.2,"y":1.7},{"s":"0.4","x":9.28,"y":1.8},{"s":"0.4","x":9.34,"y":1.6},{"s":"0.4","x":9.42,"y":1.35},{"s":"0.4","x":9.48,"y":1.2},{"s":"0.4","x":9.56,"y":1.25},{"s":"0.4","x":9.64,"y":1.15},{"s":"0.4","x":9.71,"y":0.97},{"s":"0.4","x":9.78,"y":1.15},{"s":"0.4","x":9.86,"y":1.25},{"s":"0.4","x":9.92,"y":1.2},{"s":"0.4","x":9.96,"y":1.25},{"s":"0.4","x":10,"y":1.3},
      {"s":"0.5","x":0,"y":3.15},{"s":"0.5","x":0.02,"y":2.3},{"s":"0.5","x":0.05,"y":2.05},{"s":"0.5","x":0.08,"y":2.55},{"s":"0.5","x":0.11,"y":2.2},{"s":"0.5","x":0.14,"y":2.5},{"s":"0.5","x":0.16,"y":1.75},{"s":"0.5","x":0.19,"y":2.3},{"s":"0.5","x":0.22,"y":2.0},{"s":"0.5","x":0.26,"y":2.8},{"s":"0.5","x":0.3,"y":2.75},{"s":"0.5","x":0.34,"y":2.3},{"s":"0.5","x":0.37,"y":1.8},{"s":"0.5","x":0.41,"y":2.5},{"s":"0.5","x":0.46,"y":3.0},{"s":"0.5","x":0.51,"y":2.7},{"s":"0.5","x":0.55,"y":2.1},{"s":"0.5","x":0.58,"y":2.0},{"s":"0.5","x":0.62,"y":2.55},{"s":"0.5","x":0.67,"y":3.0},{"s":"0.5","x":0.72,"y":2.6},{"s":"0.5","x":0.77,"y":1.95},{"s":"0.5","x":0.8,"y":1.7},{"s":"0.5","x":0.84,"y":2.1},{"s":"0.5","x":0.89,"y":2.55},{"s":"0.5","x":0.93,"y":2.45},{"s":"0.5","x":0.97,"y":2.0},{"s":"0.5","x":1.01,"y":1.7},{"s":"0.5","x":1.05,"y":1.55},{"s":"0.5","x":1.11,"y":1.75},{"s":"0.5","x":1.15,"y":1.8},{"s":"0.5","x":1.19,"y":1.65},{"s":"0.5","x":1.25,"y":1.6},{"s":"0.5","x":1.31,"y":1.5},{"s":"0.5","x":1.37,"y":1.7},{"s":"0.5","x":1.43,"y":1.6},{"s":"0.5","x":1.47,"y":1.45},{"s":"0.5","x":1.53,"y":1.35},{"s":"0.5","x":1.59,"y":1.75},{"s":"0.5","x":1.65,"y":1.75},{"s":"0.5","x":1.71,"y":1.5},{"s":"0.5","x":1.74,"y":1.45},{"s":"0.5","x":1.8,"y":1.75},{"s":"0.5","x":1.86,"y":1.75},{"s":"0.5","x":1.94,"y":1.45},{"s":"0.5","x":2.0,"y":1.75},{"s":"0.5","x":2.06,"y":1.75},{"s":"0.5","x":2.14,"y":1.5},{"s":"0.5","x":2.2,"y":1.7},{"s":"0.5","x":2.28,"y":1.75},{"s":"0.5","x":2.34,"y":1.7},{"s":"0.5","x":2.4,"y":1.8},{"s":"0.5","x":2.46,"y":1.85},{"s":"0.5","x":2.52,"y":1.75},{"s":"0.5","x":2.58,"y":1.9},{"s":"0.5","x":2.64,"y":1.85},{"s":"0.5","x":2.7,"y":1.75},{"s":"0.5","x":2.76,"y":2.05},{"s":"0.5","x":2.82,"y":1.85},{"s":"0.5","x":2.88,"y":2.05},{"s":"0.5","x":2.93,"y":2.2},{"s":"0.5","x":2.97,"y":2.0},{"s":"0.5","x":3.01,"y":1.85},{"s":"0.5","x":3.07,"y":2.1},{"s":"0.5","x":3.13,"y":2.3},{"s":"0.5","x":3.19,"y":2.2},{"s":"0.5","x":3.25,"y":1.95},{"s":"0.5","x":3.31,"y":2.45},{"s":"0.5","x":3.37,"y":2.35},{"s":"0.5","x":3.43,"y":2.05},{"s":"0.5","x":3.49,"y":2.45},{"s":"0.5","x":3.55,"y":2.5},{"s":"0.5","x":3.61,"y":2.3},{"s":"0.5","x":3.67,"y":2.45},{"s":"0.5","x":3.73,"y":2.25},{"s":"0.5","x":3.79,"y":2.0},{"s":"0.5","x":3.85,"y":2.5},{"s":"0.5","x":3.91,"y":2.4},{"s":"0.5","x":3.97,"y":2.25},{"s":"0.5","x":4.03,"y":2.0},{"s":"0.5","x":4.09,"y":2.3},{"s":"0.5","x":4.15,"y":2.4},{"s":"0.5","x":4.21,"y":2.0},{"s":"0.5","x":4.27,"y":1.95},{"s":"0.5","x":4.32,"y":2.1},{"s":"0.5","x":4.36,"y":2.3},{"s":"0.5","x":4.42,"y":1.9},{"s":"0.5","x":4.48,"y":1.65},{"s":"0.5","x":4.54,"y":1.85},{"s":"0.5","x":4.58,"y":2.0},{"s":"0.5","x":4.64,"y":1.8},{"s":"0.5","x":4.7,"y":1.45},{"s":"0.5","x":4.76,"y":1.65},{"s":"0.5","x":4.8,"y":1.85},{"s":"0.5","x":4.86,"y":1.6},{"s":"0.5","x":4.94,"y":1.3},{"s":"0.5","x":5.0,"y":1.6},{"s":"0.5","x":5.05,"y":1.5},{"s":"0.5","x":5.11,"y":1.25},{"s":"0.5","x":5.17,"y":1.3},{"s":"0.5","x":5.21,"y":1.45},{"s":"0.5","x":5.29,"y":1.35},{"s":"0.5","x":5.37,"y":1.15},{"s":"0.5","x":5.43,"y":1.1},{"s":"0.5","x":5.51,"y":1.0},{"s":"0.5","x":5.59,"y":0.85},{"s":"0.5","x":5.69,"y":1.25},{"s":"0.5","x":5.75,"y":1.2},{"s":"0.5","x":5.83,"y":0.8},{"s":"0.5","x":5.93,"y":1.15},{"s":"0.5","x":5.99,"y":1.05},{"s":"0.5","x":6.07,"y":0.75},{"s":"0.5","x":6.17,"y":0.7},{"s":"0.5","x":6.24,"y":0.9},{"s":"0.5","x":6.3,"y":0.95},{"s":"0.5","x":6.38,"y":0.8},{"s":"0.5","x":6.48,"y":0.6},{"s":"0.5","x":6.56,"y":0.8},{"s":"0.5","x":6.64,"y":0.85},{"s":"0.5","x":6.74,"y":0.7},{"s":"0.5","x":6.82,"y":0.6},{"s":"0.5","x":6.92,"y":0.8},{"s":"0.5","x":6.98,"y":0.9},{"s":"0.5","x":7.06,"y":0.8},{"s":"0.5","x":7.14,"y":0.55},{"s":"0.5","x":7.22,"y":0.65},{"s":"0.5","x":7.28,"y":0.5},{"s":"0.5","x":7.36,"y":0.4},{"s":"0.5","x":7.44,"y":0.35},{"s":"0.5","x":7.51,"y":0.35},{"s":"0.5","x":7.59,"y":0.55},{"s":"0.5","x":7.67,"y":0.75},{"s":"0.5","x":7.77,"y":0.6},{"s":"0.5","x":7.85,"y":0.6},{"s":"0.5","x":7.95,"y":0.45},{"s":"0.5","x":8.03,"y":0.3},{"s":"0.5","x":8.11,"y":0.35},{"s":"0.5","x":8.21,"y":0.4},{"s":"0.5","x":8.29,"y":0.3},{"s":"0.5","x":8.39,"y":0.35},{"s":"0.5","x":8.49,"y":0.3},{"s":"0.5","x":8.57,"y":0.25},{"s":"0.5","x":8.67,"y":0.4},{"s":"0.5","x":8.74,"y":0.5},{"s":"0.5","x":8.84,"y":0.45},{"s":"0.5","x":8.92,"y":0.3},{"s":"0.5","x":9.0,"y":0.25},{"s":"0.5","x":9.08,"y":0.35},{"s":"0.5","x":9.16,"y":0.3},{"s":"0.5","x":9.24,"y":0.2},{"s":"0.5","x":9.32,"y":0.45},{"s":"0.5","x":9.4,"y":0.55},{"s":"0.5","x":9.48,"y":0.5},{"s":"0.5","x":9.56,"y":0.35},{"s":"0.5","x":9.66,"y":0.3},{"s":"0.5","x":9.74,"y":0.3},{"s":"0.5","x":9.82,"y":0.25},{"s":"0.5","x":9.9,"y":0.35},{"s":"0.5","x":10,"y":0.4}
    ]
  },
  "hconcat": [
    {
      "width": 1124,
      "height": 693,
      "layer": [
        {
          "data": {"name": "a"},
          "mark": {"type": "line", "clip": true, "strokeJoin": "round"},
          "encoding": {
            "x": {"field": "x", "type": "quantitative", "title": "Distance (cm)",
                  "scale": {"domain": [0, 10], "nice": false},
                  "axis": {"values": [0, 2, 4, 6, 8, 10], "format": "d"}},
            "y": {"field": "y", "type": "quantitative", "title": "𝘐 (10¹⁴ W/cm²)",
                  "scale": {"domain": [0, 4], "nice": false},
                  "axis": {"values": [0, 1, 2, 3, 4], "format": "d"}},
            "color": {"field": "s", "type": "nominal", "title": null,
                      "scale": {"domain": ["0.8", "1.5", "2", "2.5"], "range": ["#0000ff", "#008000", "#ff0000", "#bf00bf"]},
                      "legend": {"labelExpr": "'λₘ=' + datum.label + ' μm'", "orient": "none", "legendX": 689, "legendY": 14}},
            "strokeDash": {"field": "s", "type": "nominal", "title": null,
                           "scale": {"domain": ["0.8", "1.5", "2", "2.5"], "range": [[1, 0], [40, 10, 6, 10], [1, 0], [23, 10]]},
                           "legend": {"labelExpr": "'λₘ=' + datum.label + ' μm'", "orient": "none", "legendX": 689, "legendY": 14}}
          }
        },
        {
          "data": {"values": [{}]},
          "mark": {"type": "text", "text": "(a)", "align": "left", "baseline": "middle", "fontSize": 42, "font": "DejaVu Sans", "color": "black"},
          "encoding": {"x": {"datum": 0.2}, "y": {"datum": 0.28}}
        }
      ]
    },
    {
      "width": 1124,
      "height": 693,
      "layer": [
        {
          "data": {"name": "b"},
          "mark": {"type": "line", "clip": true, "strokeJoin": "round"},
          "encoding": {
            "x": {"field": "x", "type": "quantitative", "title": "Distance (cm)",
                  "scale": {"domain": [0, 10], "nice": false},
                  "axis": {"values": [0, 2, 4, 6, 8, 10], "format": "d"}},
            "y": {"field": "y", "type": "quantitative", "title": "𝘐 (10¹⁴ W/cm²)",
                  "scale": {"domain": [0, 5], "nice": false},
                  "axis": {"values": [0, 1, 2, 3, 4, 5], "format": "d"}},
            "color": {"field": "s", "type": "nominal", "title": null,
                      "scale": {"domain": ["0.3", "0.4", "0.5"], "range": ["#0000ff", "#ff0000", "#008000"]},
                      "legend": {"labelExpr": "'λc=' + datum.label + ' μm'", "orient": "none", "legendX": 701, "legendY": 14}},
            "strokeDash": {"field": "s", "type": "nominal", "title": null,
                           "scale": {"domain": ["0.3", "0.4", "0.5"], "range": [[1, 0], [1, 0], [23, 10]]},
                           "legend": {"labelExpr": "'λc=' + datum.label + ' μm'", "orient": "none", "legendX": 701, "legendY": 14}},
            "strokeWidth": {"field": "s", "type": "nominal", "title": null,
                            "scale": {"domain": ["0.3", "0.4", "0.5"], "range": [6.25, 4.4, 6.25]},
                            "legend": {"labelExpr": "'λc=' + datum.label + ' μm'", "orient": "none", "legendX": 701, "legendY": 14}}
          }
        },
        {
          "data": {"values": [{}]},
          "mark": {"type": "text", "text": "(b)", "align": "left", "baseline": "middle", "fontSize": 42, "font": "DejaVu Sans", "color": "black"},
          "encoding": {"x": {"datum": 0.2}, "y": {"datum": 0.28}}
        }
      ]
    }
  ],
  "resolve": {"scale": {"color": "independent", "strokeDash": "independent", "strokeWidth": "independent", "y": "independent", "x": "independent"}},
  "config": {
    "font": "DejaVu Sans",
    "view": {"stroke": "black", "strokeWidth": 3.3},
    "line": {"strokeWidth": 6.25},
    "axis": {
      "grid": false,
      "domainColor": "black",
      "domainWidth": 3.3,
      "tickColor": "black",
      "tickWidth": 3.3,
      "tickSize": 14.6,
      "labelPadding": 14.6,
      "labelFont": "DejaVu Sans",
      "labelFontSize": 50,
      "labelColor": "black",
      "labelFlush": false,
      "labelOverlap": false,
      "titleFont": "DejaVu Sans",
      "titleFontSize": 50,
      "titleFontWeight": "normal",
      "titleColor": "black"
    },
    "axisX": {"titlePadding": 10},
    "axisY": {"titlePadding": 22},
    "legend": {
      "padding": 0,
      "symbolType": "stroke",
      "symbolSize": 9409,
      "symbolStrokeWidth": 6.25,
      "labelFont": "DejaVu Sans",
      "labelFontSize": 46,
      "labelColor": "black",
      "labelOffset": 32,
      "labelLimit": 600,
      "rowPadding": -26
    }
  }
}
